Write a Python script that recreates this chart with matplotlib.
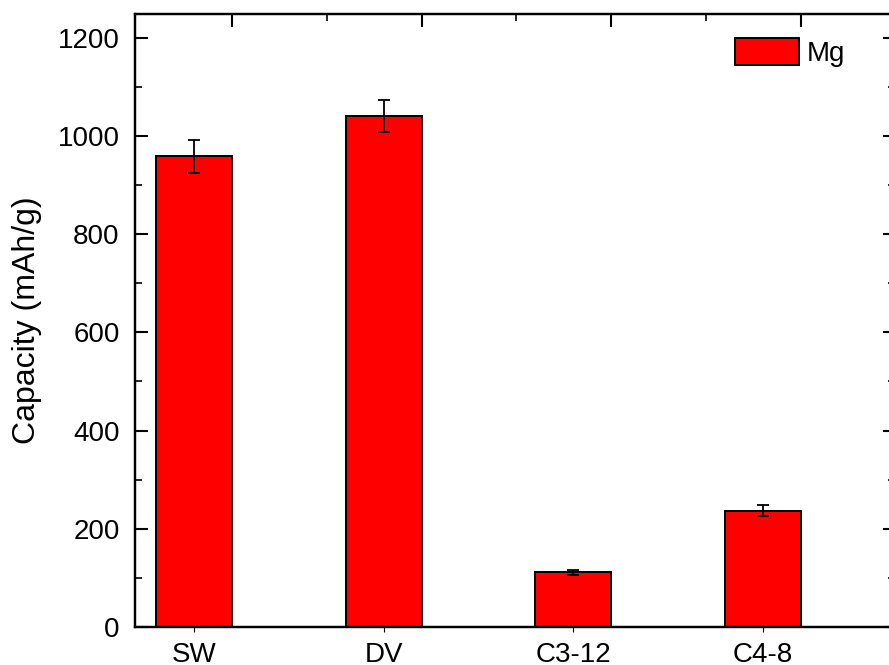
import numpy as np
import matplotlib
matplotlib.use("Agg")
import matplotlib.pyplot as plt
from matplotlib.ticker import MultipleLocator

plt.rcParams['font.family'] = ['Liberation Sans', 'DejaVu Sans']

# capacity data
samples = ["SW", "DV", "C3-12", "C4-8"]
capacity = [958, 1040, 111, 237]
capacity_err = [33, 33, 6, 11]
series_name = "Mg"

FONT_SIZE = 20

fig = plt.figure(figsize=(8.89, 6.65), dpi=100)
ax = fig.add_axes([135/889, 38/665, 760/889, 613/665])

x = np.arange(len(samples))
ax.bar(x, capacity, width=0.4, color='#ff0000', edgecolor='black',
       linewidth=1.4, label=series_name, zorder=2)
ax.errorbar(x, capacity, yerr=capacity_err, fmt='none', ecolor='black',
            elinewidth=1.3, capsize=4.5, capthick=1.3, zorder=3)

ax.set_xlim(-0.311, 3.697)
ax.set_ylim(0, 1248)
ax.set_xticks(x)
ax.set_xticklabels(samples)
ax.yaxis.set_major_locator(MultipleLocator(200))
ax.yaxis.set_minor_locator(MultipleLocator(100))

ax.tick_params(axis='x', which='both', bottom=False, labelsize=FONT_SIZE, pad=7)
ax.tick_params(axis='y', which='major', direction='in', length=9, width=1.5,
               left=True, right=True, labelsize=FONT_SIZE, pad=11)
ax.tick_params(axis='y', which='minor', direction='in', length=5, width=1.2,
               left=True, right=True)

for sp in ax.spines.values():
    sp.set_linewidth(1.6)

ax.set_ylabel("Capacity (mAh/g)", fontsize=23, labelpad=11)

# top axis carries its own tick marks, offset from the categories
top = ax.twiny()
top.set_xlim(ax.get_xlim())
top.set_xticks([0.2, 1.2, 2.2, 3.2])
top.set_xticks([0.7, 1.7, 2.7], minor=True)
top.tick_params(axis='x', which='major', direction='in', length=9, width=1.5,
                labeltop=False)
top.tick_params(axis='x', which='minor', direction='in', length=5, width=1.2)
for sp in top.spines.values():
    sp.set_linewidth(1.6)

ax.legend(loc='upper left', bbox_to_anchor=(0.789, 0.961), frameon=False,
          fontsize=FONT_SIZE, handlelength=2.3, handleheight=1.1,
          handletextpad=0.3, borderpad=0, borderaxespad=0)

fig.savefig("out.png", dpi=100)
